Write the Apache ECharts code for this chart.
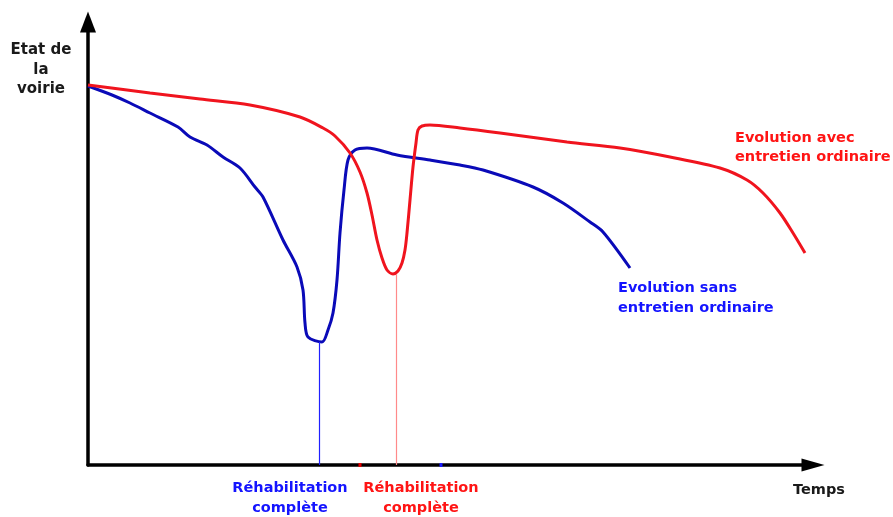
<!DOCTYPE html>
<html>
<head>
<meta charset="utf-8">
<title>Etat de la voirie</title>
<script src="https://cdn.jsdelivr.net/npm/echarts@6/dist/echarts.min.js"></script>
<style>
  html, body { margin: 0; padding: 0; background: #fff; }
  #chart { width: 893px; height: 517px; }
</style>
</head>
<body>
<div id="chart"></div>
<script>
// temps (x) / etat (y), same units on both axes, origin at the axes crossing
var redX = [0, 62, 112, 162, 212, 235, 247, 262, 272, 279, 284, 289, 294, 299, 305, 310, 314, 317, 319, 322, 325, 328, 330, 334, 342, 372, 412, 479, 532, 582, 632, 659, 675, 692, 705, 717];
var redY = [380, 372, 366, 360, 348, 337, 329, 312, 293, 272, 250, 225, 207, 195, 191, 194, 202, 215, 232, 265, 298, 322, 335, 339, 340, 337, 332, 323, 317, 308, 297, 285, 272, 252, 232, 212];

var blueX = [0, 24, 42, 62, 90, 102, 119, 135, 152, 167, 175, 195, 209, 215, 217, 220, 234, 240, 245, 249, 252, 256, 260, 267, 279, 309, 342, 372, 395, 445, 475, 502, 515, 542];
var blueY = [379, 370, 362, 352, 338, 328, 320, 308, 297, 278, 268, 225, 198, 175, 142, 128, 123, 135, 152, 185, 232, 275, 305, 315, 317, 310, 305, 300, 295, 278, 262, 243, 233, 197];

// rehabilitation points (x, y of the low point) and small marks on the time axis
var rehabBlue = [231.5, 123];
var rehabRed = [308.5, 191];
var markRed = 272;
var markBlue = 353;

var xMax = 725;
var yMax = 443;

function pairs(xs, ys) {
  var out = [];
  for (var i = 0; i < xs.length; i++) {
    out.push([xs[i], ys[i]]);
  }
  return out;
}

var FONT = '"DejaVu Sans", Verdana, sans-serif';

var myChart = echarts.init(document.getElementById("chart"));

var options = {
  backgroundColor: "#fff",
  animation: false,
  grid: {
    left: 88,
    top: 22,
    width: xMax,
    height: yMax
  },
  xAxis: {
    type: "value",
    min: 0,
    max: xMax,
    axisLine: {
      show: true,
      symbol: ["none", "triangle"],
      symbolSize: [13, 23],
      lineStyle: { color: "#000", width: 3.5 }
    },
    axisTick: { show: false },
    axisLabel: { show: false },
    splitLine: { show: false }
  },
  yAxis: {
    type: "value",
    min: 0,
    max: yMax,
    axisLine: {
      show: true,
      symbol: ["none", "triangle"],
      symbolSize: [16, 21],
      lineStyle: { color: "#000", width: 3.5 }
    },
    axisTick: { show: false },
    axisLabel: { show: false },
    splitLine: { show: false }
  },
  series: [
    {
      name: "Evolution sans entretien ordinaire",
      type: "line",
      data: pairs(blueX, blueY),
      showSymbol: false,
      smooth: 0.3,
      lineStyle: { color: "#0a0ab8", width: 3 },
      markLine: {
        silent: true,
        symbol: "none",
        label: { show: false },
        itemStyle: { color: "#2020ff" },
        lineStyle: { color: "#2020ff", width: 1.2, type: "solid", opacity: 1 },
        data: [[{ coord: [rehabBlue[0], 0] }, { coord: [rehabBlue[0], rehabBlue[1]] }]]
      },
      markPoint: {
        silent: true,
        symbol: "rect",
        symbolSize: [3, 4],
        itemStyle: { color: "#1a1aff" },
        label: { show: false },
        data: [{ coord: [markBlue, 0] }]
      }
    },
    {
      name: "Evolution avec entretien ordinaire",
      type: "line",
      data: pairs(redX, redY),
      showSymbol: false,
      smooth: 0.3,
      lineStyle: { color: "#f0141e", width: 3 },
      markLine: {
        silent: true,
        symbol: "none",
        label: { show: false },
        itemStyle: { color: "#ff8a8a" },
        lineStyle: { color: "#ff8a8a", width: 1.2, type: "solid", opacity: 1 },
        data: [[{ coord: [rehabRed[0], 0] }, { coord: [rehabRed[0], rehabRed[1]] }]]
      },
      markPoint: {
        silent: true,
        symbol: "rect",
        symbolSize: [3, 4],
        itemStyle: { color: "#e00000" },
        label: { show: false },
        data: [{ coord: [markRed, 0] }]
      }
    }
  ],
  graphic: [
    {
      type: "text", x: 41, y: 70,
      style: { text: "Etat de\nla\nvoirie", font: "bold 15px " + FONT, fill: "#1a1a1a",
        textAlign: "center", textVerticalAlign: "middle", lineHeight: 19.5 }
    },
    {
      type: "text", x: 819, y: 490,
      style: { text: "Temps", font: "bold 14.5px " + FONT, fill: "#1a1a1a",
        textAlign: "center", textVerticalAlign: "middle" }
    },
    {
      type: "text", x: 290, y: 498,
      style: { text: "Réhabilitation\ncomplète", font: "bold 14.5px " + FONT, fill: "#1414ff",
        textAlign: "center", textVerticalAlign: "middle", lineHeight: 20 }
    },
    {
      type: "text", x: 421, y: 498,
      style: { text: "Réhabilitation\ncomplète", font: "bold 14.5px " + FONT, fill: "#ff1414",
        textAlign: "center", textVerticalAlign: "middle", lineHeight: 20 }
    },
    {
      type: "text", x: 735, y: 147.5,
      style: { text: "Evolution avec\nentretien ordinaire", font: "bold 14.5px " + FONT, fill: "#ff1414",
        textAlign: "left", textVerticalAlign: "middle", lineHeight: 19 }
    },
    {
      type: "text", x: 618, y: 298,
      style: { text: "Evolution sans\nentretien ordinaire", font: "bold 14.5px " + FONT, fill: "#1414ff",
        textAlign: "left", textVerticalAlign: "middle", lineHeight: 20 }
    }
  ]
};

myChart.setOption(options);
window.addEventListener("resize", function () {
  myChart.resize();
});
</script>
</body>
</html>
